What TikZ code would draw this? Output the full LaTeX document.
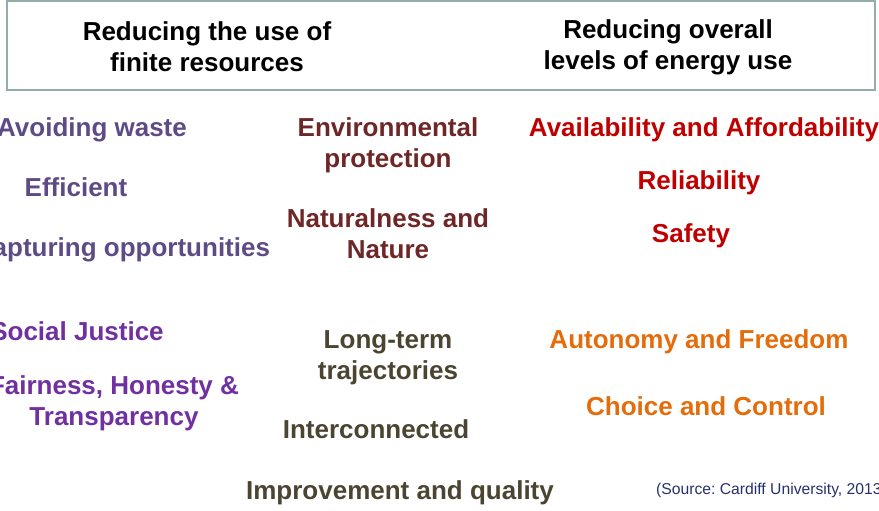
\documentclass[tikz,border=0pt]{standalone}
\usepackage{fontspec}
\setmainfont{Liberation Sans}
\usetikzlibrary{positioning}

\definecolor{framegray}{HTML}{93ADAD}
\definecolor{mutedpurple}{HTML}{5E4B86}
\definecolor{brightpurple}{HTML}{7030A0}
\definecolor{maroon}{HTML}{6E2626}
\definecolor{olive}{HTML}{4A4431}
\definecolor{darkred}{HTML}{C00000}
\definecolor{deeporange}{HTML}{E46C0A}
\definecolor{navy}{HTML}{27306B}

\begin{document}
\frenchspacing
\begin{tikzpicture}[x=1pt,y=-1pt]
    \tikzstyle{item} = [font=\fontsize{26}{31}\selectfont\bfseries, align=center,
        inner sep=0pt, yshift=-3pt]
    \tikzstyle{head} = [item, text=black]
    \tikzstyle{frame} = [rectangle, draw=framegray, line width=2.5pt, fill=white,
        minimum width=868pt, minimum height=89pt, inner sep=0pt]

    \useasboundingbox (0,0) rectangle (879,511);
    \clip (0,0) rectangle (879,511);

    % Header
    \node[frame] (frame) at (441,45.5) {};
    \node[head] (finite) at (207,44) {Reducing the use of\\finite resources};
    \node[head] (overall) at (668,44) {Reducing overall\\levels of energy use};

    % Left column
    \node[item, text=mutedpurple] (waste) at (92,127) {Avoiding waste};
    \node[item, text=mutedpurple] (efficient) at (76,184) {Efficient};
    \node[item, text=mutedpurple] (capturing) at (122,247) {Capturing opportunities};
    \node[item, text=brightpurple] (justice) at (77,328) {Social Justice};
    \node[item, text=brightpurple] (fairness) at (114,400) {Fairness, Honesty \&\\Transparency};

    % Middle column
    \node[item, text=maroon] (environment) at (388,142.5) {Environmental\\protection};
    \node[item, text=maroon] (nature) at (388,230.5) {Naturalness and\\Nature};
    \node[item, text=olive] (longterm) at (388,354.5) {Long-term\\trajectories};
    \node[item, text=olive] (interconnected) at (376,426) {Interconnected};
    \node[item, text=olive] (quality) at (400,490) {Improvement and quality};

    % Right column
    \node[item, text=darkred] (affordability) at (704,127) {Availability and Affordability};
    \node[item, text=darkred] (reliability) at (699,180) {Reliability};
    \node[item, text=darkred] (safety) at (691,233) {Safety};
    \node[item, text=deeporange] (autonomy) at (699,339) {Autonomy and Freedom};
    \node[item, text=deeporange] (choice) at (706,403) {Choice and Control};

    % Source
    \node[anchor=west, inner sep=0pt, text=navy, font=\fontsize{15.7}{18}\selectfont]
        (source) at (656,490) {(Source: Cardiff University, 2013)};
\end{tikzpicture}
\end{document}
